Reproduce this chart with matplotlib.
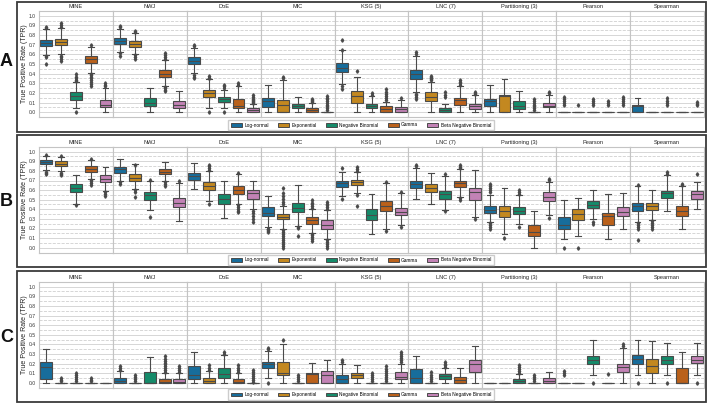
import numpy as np
import matplotlib
matplotlib.use('Agg')
import matplotlib.pyplot as plt
from matplotlib.patches import Rectangle, Patch
import seaborn as sns

plt.rcParams['font.family'] = ['Liberation Sans', 'DejaVu Sans']

# ---------------- data ----------------
METHODS = ['MINE', 'NWJ', 'DoE', 'MIC', 'KSG (5)', 'LNC (7)', 'Partitioning (3)', 'Pearson', 'Spearman']
DISTS = ['Log-normal', 'Exponential', 'Negative Binomial', 'Gamma', 'Beta Negative Binomial']
PANELS = ['A', 'B', 'C']
YTICKS = [0.0, 0.1, 0.2, 0.3, 0.4, 0.5, 0.6, 0.7, 0.8, 0.9, 1.0]
YLABEL = 'True Positive Rate (TPR)'

# Panel A
A_q1 = [[0.69, 0.70, 0.13, 0.51, 0.05], [0.71, 0.68, 0.06, 0.37, 0.04], [0.50, 0.16, 0.11, 0.04, 0.00],
        [0.05, 0.00, 0.04, 0.00, 0.00], [0.42, 0.10, 0.04, 0.00, 0.00], [0.34, 0.12, 0.00, 0.08, 0.03],
        [0.06, 0.00, 0.03, 0.00, 0.05], [0, 0, 0, 0, 0], [0, 0, 0, 0, 0]]
A_med = [[0.72, 0.73, 0.17, 0.55, 0.08], [0.74, 0.71, 0.10, 0.40, 0.08], [0.53, 0.20, 0.14, 0.07, 0.02],
         [0.12, 0.08, 0.07, 0.02, 0.00], [0.46, 0.17, 0.07, 0.03, 0.03], [0.40, 0.16, 0.02, 0.13, 0.06],
         [0.12, 0.17, 0.07, 0.00, 0.07], [0, 0, 0, 0, 0], [0.06, 0, 0, 0, 0]]
A_q3 = [[0.75, 0.76, 0.21, 0.58, 0.13], [0.77, 0.74, 0.15, 0.44, 0.12], [0.57, 0.23, 0.16, 0.14, 0.04],
        [0.15, 0.13, 0.09, 0.04, 0.00], [0.51, 0.22, 0.09, 0.06, 0.05], [0.44, 0.21, 0.04, 0.15, 0.09],
        [0.14, 0.18, 0.12, 0.00, 0.10], [0, 0, 0, 0, 0], [0.08, 0, 0, 0, 0]]
A_lo = [[0.59, 0.60, 0.04, 0.41, 0.00], [0.62, 0.60, 0.00, 0.27, 0.00], [0.41, 0.04, 0.04, 0.00, 0.00],
        [0, 0, 0, 0, 0], [0.29, 0, 0, 0, 0], [0.21, 0, 0, 0, 0], [0, 0, 0, 0, 0], [0, 0, 0, 0, 0], [0, 0, 0, 0, 0]]
A_hi = [[0.86, 0.87, 0.31, 0.68, 0.25], [0.86, 0.82, 0.25, 0.54, 0.22], [0.67, 0.34, 0.23, 0.27, 0.09],
        [0.28, 0.33, 0.16, 0.10, 0.00], [0.64, 0.37, 0.17, 0.11, 0.13], [0.58, 0.31, 0.09, 0.27, 0.18],
        [0.28, 0.34, 0.22, 0.00, 0.18], [0, 0, 0, 0, 0], [0.15, 0, 0, 0, 0]]
A_fliers = [
    [[0.50, 0.57, 0.58, 0.87, 0.88], [0.53, 0.55, 0.57, 0.58, 0.88, 0.90, 0.92], [0.0, 0.32, 0.33, 0.35, 0.37, 0.40],
     [0.27, 0.29, 0.31, 0.33, 0.35, 0.37, 0.39, 0.40, 0.70], [0.27, 0.28, 0.30]],
    [[0.58, 0.61, 0.88, 0.89], [0.55, 0.57, 0.59, 0.83, 0.84], [], [0.22, 0.23, 0.25, 0.26, 0.55, 0.57, 0.59, 0.61], []],
    [[0.35, 0.37, 0.39, 0.69, 0.70], [0.0, 0.35, 0.36, 0.38], [0.0, 0.25, 0.27, 0.28], [0.28, 0.30],
     [0.10, 0.11, 0.12, 0.13, 0.14, 0.16, 0.18]],
    [[], [0.35, 0.37], [], [0.11, 0.12, 0.13, 0.14], [0.02, 0.04, 0.06, 0.08, 0.10, 0.12, 0.14, 0.15, 0.17]],
    [[0.24, 0.27, 0.65, 0.75], [0.43], [0.18, 0.20], [0.13, 0.15, 0.17, 0.19, 0.21, 0.24], [0.15]],
    [[0.14, 0.16, 0.18, 0.19, 0.60, 0.62], [0.33, 0.34, 0.35, 0.36, 0.37, 0.38], [0.16, 0.18, 0.21],
     [0.28, 0.30, 0.31, 0.33], [0.19, 0.20, 0.21]],
    [[], [], [], [0.02, 0.04, 0.06, 0.08, 0.10, 0.12, 0.14], [0.20, 0.21]],
    [[0.08, 0.10, 0.12, 0.14, 0.16], [0.08], [0.08, 0.10, 0.12, 0.14], [0.08, 0.10, 0.12], [0.08, 0.10, 0.12, 0.14, 0.16]],
    [[], [], [0.08, 0.10, 0.12, 0.15], [], [0.08, 0.09, 0.11]],
]

# Panel B
B_q1 = [[0.87, 0.85, 0.58, 0.79, 0.68], [0.78, 0.70, 0.50, 0.77, 0.42], [0.71, 0.60, 0.46, 0.56, 0.51],
        [0.33, 0.30, 0.37, 0.25, 0.20], [0.63, 0.65, 0.29, 0.38, 0.34], [0.62, 0.58, 0.51, 0.63, 0.50],
        [0.36, 0.32, 0.35, 0.12, 0.49], [0.19, 0.29, 0.41, 0.24, 0.33], [0.38, 0.39, 0.52, 0.33, 0.51]]
B_med = [[0.89, 0.875, 0.62, 0.82, 0.72], [0.815, 0.73, 0.55, 0.79, 0.47], [0.745, 0.64, 0.51, 0.60, 0.57],
         [0.365, 0.32, 0.41, 0.29, 0.24], [0.67, 0.68, 0.34, 0.43, 0.375], [0.66, 0.625, 0.555, 0.67, 0.58],
         [0.39, 0.38, 0.385, 0.16, 0.53], [0.24, 0.35, 0.445, 0.33, 0.375], [0.43, 0.435, 0.565, 0.38, 0.555]]
B_q3 = [[0.91, 0.90, 0.66, 0.85, 0.76], [0.84, 0.77, 0.58, 0.82, 0.52], [0.78, 0.68, 0.56, 0.64, 0.60],
        [0.42, 0.35, 0.47, 0.32, 0.29], [0.70, 0.71, 0.40, 0.49, 0.41], [0.69, 0.66, 0.59, 0.69, 0.62],
        [0.43, 0.43, 0.42, 0.24, 0.58], [0.32, 0.40, 0.49, 0.36, 0.42], [0.47, 0.47, 0.59, 0.43, 0.59]]
B_lo = [[0.81, 0.80, 0.46, 0.72, 0.59], [0.70, 0.61, 0.39, 0.70, 0.28], [0.61, 0.49, 0.31, 0.45, 0.40],
        [0.22, 0.20, 0.23, 0.15, 0.09], [0.54, 0.57, 0.14, 0.19, 0.24], [0.51, 0.46, 0.39, 0.53, 0.32],
        [0.27, 0.14, 0.25, 0.00, 0.34], [0.09, 0.12, 0.30, 0.09, 0.19], [0.27, 0.29, 0.38, 0.19, 0.40]]
B_hi = [[0.96, 0.95, 0.76, 0.91, 0.84], [0.92, 0.87, 0.70, 0.89, 0.67], [0.88, 0.80, 0.70, 0.77, 0.70],
        [0.54, 0.43, 0.65, 0.40, 0.39], [0.79, 0.79, 0.56, 0.67, 0.57], [0.83, 0.78, 0.75, 0.82, 0.81],
        [0.55, 0.62, 0.55, 0.38, 0.68], [0.50, 0.52, 0.60, 0.56, 0.57], [0.64, 0.60, 0.76, 0.64, 0.68]]
B_fliers = [
    [[0.77, 0.78, 0.79, 0.97], [0.76, 0.77, 0.78, 0.96], [0.44], [0.65, 0.67, 0.69, 0.71, 0.92], [0.54, 0.56, 0.58]],
    [[0.66, 0.68], [0.53, 0.58, 0.60, 0.86], [0.32, 0.71], [0.64, 0.66, 0.68], [0.70]],
    [[], [0.46, 0.81, 0.83, 0.85, 0.86], [], [0.37, 0.38, 0.40, 0.42, 0.44, 0.78], [0.27, 0.30, 0.33, 0.36, 0.38]],
    [[0.16, 0.17, 0.18, 0.19, 0.20],
     [0.0, 0.02, 0.04, 0.06, 0.08, 0.10, 0.12, 0.14, 0.16, 0.18, 0.45, 0.48, 0.51, 0.54, 0.57, 0.62],
     [0.12, 0.21, 0.22], [0.07, 0.09, 0.11, 0.13, 0.14, 0.41, 0.43, 0.45, 0.47, 0.50],
     [0.0, 0.02, 0.04, 0.06, 0.08, 0.40, 0.42, 0.44, 0.46, 0.48]],
    [[0.51, 0.83], [0.43, 0.55, 0.80, 0.82, 0.84], [], [0.17, 0.68], [0.22, 0.58]],
    [[0.85, 0.86], [], [0.38, 0.77], [0.50, 0.52, 0.83, 0.84, 0.86], [0.30]],
    [[0.20, 0.22, 0.24, 0.26, 0.58, 0.60, 0.62, 0.64, 0.66], [0.10], [0.22, 0.56, 0.58, 0.60], [], [0.31, 0.71, 0.72]],
    [[0.0], [0.0], [0.25, 0.27], [], []],
    [[0.08, 0.20, 0.22, 0.24, 0.26, 0.65], [0.20, 0.22, 0.24, 0.26, 0.28], [0.77, 0.79], [0.65, 0.66], [0.77]],
]

# Panel C
C_q1 = [[0.035, 0, 0, 0, 0], [0, 0, 0, 0, 0], [0.04, 0, 0.05, 0, 0], [0.15, 0.08, 0, 0, 0],
        [0, 0.045, 0, 0, 0.035], [0, 0, 0.035, 0, 0.11], [0, 0, 0, 0, 0], [0, 0, 0.20, 0, 0.11],
        [0.20, 0.10, 0.19, 0, 0.21]]
C_med = [[0.165, 0, 0, 0, 0], [0.02, 0, 0, 0.01, 0.01], [0.08, 0.02, 0.09, 0.01, 0], [0.19, 0.10, 0, 0.09, 0.08],
         [0.04, 0.08, 0, 0, 0.06], [0.045, 0, 0.065, 0.03, 0.195], [0, 0, 0.02, 0, 0.02], [0, 0, 0.24, 0, 0.165],
         [0.245, 0.175, 0.235, 0.0, 0.235]]
C_q3 = [[0.22, 0, 0, 0, 0], [0.05, 0, 0.11, 0.04, 0.04], [0.17, 0.05, 0.15, 0.04, 0], [0.22, 0.22, 0, 0.10, 0.12],
        [0.08, 0.10, 0, 0, 0.11], [0.14, 0, 0.09, 0.06, 0.24], [0, 0, 0.04, 0, 0.05], [0, 0, 0.28, 0, 0.20],
        [0.29, 0.25, 0.28, 0.15, 0.28]]
C_lo = [[0, 0, 0, 0, 0], [0, 0, 0, 0, 0], [0, 0, 0, 0, 0], [0.05, 0, 0, 0, 0], [0, 0, 0, 0, 0], [0, 0, 0, 0, 0],
        [0, 0, 0, 0, 0], [0, 0, 0.08, 0, 0], [0.08, 0, 0.08, 0, 0.08]]
C_hi = [[0.35, 0, 0, 0, 0], [0.12, 0, 0.27, 0.10, 0.10], [0.32, 0.12, 0.29, 0.10, 0], [0.33, 0.40, 0, 0.21, 0.24],
        [0.20, 0.18, 0, 0, 0.20], [0.28, 0, 0.15, 0.15, 0.38], [0, 0, 0.09, 0, 0.11], [0, 0, 0.44, 0, 0.36],
        [0.45, 0.43, 0.41, 0.32, 0.41]]
C_fliers = [
    [[], [0.02, 0.03, 0.05], [0.02, 0.04, 0.06, 0.08, 0.10], [0.02, 0.03, 0.05], []],
    [[0.13, 0.15, 0.17], [0.02, 0.04, 0.06, 0.08], [], [0.11, 0.13, 0.15, 0.17, 0.19, 0.21, 0.23, 0.25, 0.28],
     [0.11, 0.13, 0.15, 0.17]],
    [[], [0.13, 0.15, 0.18], [0.30, 0.32], [0.11, 0.13, 0.15, 0.18], [0.01, 0.03, 0.05, 0.07, 0.09, 0.11, 0.13]],
    [[0.0, 0.35, 0.36], [0.44], [0.02, 0.04, 0.06, 0.08], [], []],
    [[0.22, 0.24], [], [0.02, 0.04, 0.06, 0.08, 0.10], [0.02, 0.04, 0.06, 0.08, 0.10, 0.12, 0.14, 0.17],
     [0.22, 0.24, 0.26, 0.28, 0.30, 0.32]],
    [[], [0.02, 0.04, 0.06, 0.08, 0.11], [0.16, 0.18, 0.20, 0.22], [], []],
    [[], [], [0.10, 0.12, 0.14, 0.16, 0.18], [0.02, 0.04, 0.06, 0.08], []],
    [[0.08, 0.10, 0.12], [], [0.0], [0.09], [0.38, 0.40]],
    [[0.0], [], [0.0], [], [0.0]],
]

PANEL_DATA = {
    'A': (A_q1, A_med, A_q3, A_lo, A_hi, A_fliers),
    'B': (B_q1, B_med, B_q3, B_lo, B_hi, B_fliers),
    'C': (C_q1, C_med, C_q3, C_lo, C_hi, C_fliers),
}

# ---------------- layout (pixels) ----------------
W, H = 709, 404
fig = plt.figure(figsize=(W / 100, H / 100), dpi=100)

def fx(px):
    return px / W

def fy(py):
    return 1 - py / H

AX_LEFT, AX_RIGHT = 39.0, 704.0
AX_TB = {'A': (10.9, 117.1), 'B': (146.9, 252.5), 'C': (281.9, 387.5)}
BORDER_TB = {'A': (2.5, 131.5), 'B': (135.5, 266.5), 'C': (270.5, 401.5)}
LEG_Y = {'A': 125.0, 'B': 260.0, 'C': 394.5}
LETTER_Y = {'A': 62.0, 'B': 201.0, 'C': 338.0}

colors = sns.color_palette('colorblind', 5, desat=0.75)
LINE = '#4a4a4a'
gw = (AX_RIGHT - AX_LEFT) / len(METHODS)

for p in PANELS:
    q1s, meds, q3s, los, his, fls = PANEL_DATA[p]
    top, bot = AX_TB[p]
    for g, m in enumerate(METHODS):
        ax = fig.add_axes([fx(AX_LEFT + g * gw), fy(bot), gw / W, (bot - top) / H])
        stats = []
        for d in range(len(DISTS)):
            stats.append(dict(q1=q1s[g][d], med=meds[g][d], q3=q3s[g][d],
                              whislo=los[g][d], whishi=his[g][d], fliers=fls[g][d]))
        bp = ax.bxp(stats, positions=range(len(DISTS)), widths=0.8, patch_artist=True,
                    showfliers=True,
                    boxprops=dict(edgecolor=LINE, linewidth=0.8),
                    medianprops=dict(color=LINE, linewidth=0.8),
                    whiskerprops=dict(color=LINE, linewidth=0.8),
                    capprops=dict(color=LINE, linewidth=0.8),
                    flierprops=dict(marker='d', markersize=1.8, markerfacecolor=LINE,
                                    markeredgecolor=LINE, linestyle='none'))
        for patch, c in zip(bp['boxes'], colors):
            patch.set_facecolor(c)
        ax.set_xlim(-0.5, len(DISTS) - 0.5)
        ax.set_ylim(-0.05, 1.05)
        ax.set_yticks(YTICKS)
        ax.set_yticks(np.arange(0.05, 1.0, 0.1), minor=True)
        ax.set_xticks([])
        ax.grid(which='major', axis='y', color='#d6d6d6', linewidth=0.7)
        ax.grid(which='minor', axis='y', color='#d0d0d0', linewidth=0.6, linestyle='--')
        ax.set_axisbelow(True)
        ax.tick_params(axis='both', which='both', length=0)
        for s in ax.spines.values():
            s.set_color('#c4c4c4')
            s.set_linewidth(0.8)
        ax.set_title(m, fontsize=4.1, pad=2.4, color='#222222')
        if g == 0:
            ax.set_yticklabels(['%.1f' % v for v in YTICKS], fontsize=3.6, color='#333333')
            ax.tick_params(axis='y', pad=2.5)
        else:
            ax.set_yticklabels([])
    fig.text(fx(25), fy((top + bot) / 2), YLABEL, rotation=90, ha='center', va='center',
             fontsize=5.0, color='#222222')
    handles = [Patch(facecolor=c, edgecolor=LINE, linewidth=0.7) for c in colors]
    fig.legend(handles, DISTS, loc='center', bbox_to_anchor=(fx(361), fy(LEG_Y[p])), ncol=5,
               fontsize=3.4, frameon=True, handlelength=2.3, handleheight=0.8,
               columnspacing=2.0, handletextpad=0.5, borderpad=0.55, edgecolor='#cccccc',
               fancybox=False, framealpha=1)
    bt, bb = BORDER_TB[p]
    fig.add_artist(Rectangle((fx(17), fy(bb)), (706 - 17) / W, (bb - bt) / H, transform=fig.transFigure,
                             fill=False, edgecolor='#3a3a3a', linewidth=1.3))
    fig.text(fx(6.5), fy(LETTER_Y[p]), p, fontsize=13, fontweight='bold', ha='center', va='center',
             color='#111111')

fig.savefig('out.png', dpi=100)
